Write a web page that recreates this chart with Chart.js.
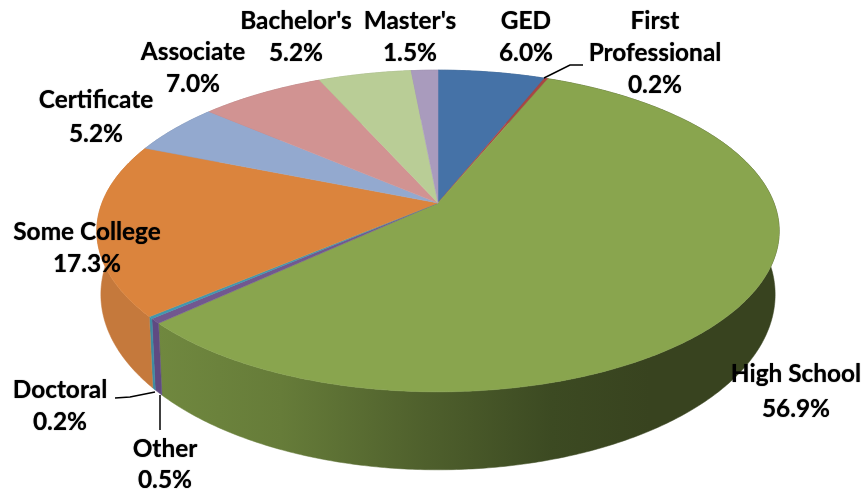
<!DOCTYPE html>
<html><head><meta charset="utf-8">
<style>html,body{margin:0;padding:0;background:#fff}canvas{display:block}</style>
<script src="https://cdn.jsdelivr.net/npm/chart.js@4/dist/chart.umd.min.js"></script>
</head><body><canvas id="c" width="863" height="494"></canvas>
<script>
const categories = ["GED","First Professional","High School","Other","Doctoral","Some College","Certificate","Associate","Bachelor's","Master's"];
const shares = [6.0,0.2,56.9,0.5,0.2,17.3,5.2,7.0,5.2,1.5];
const topColors = ["#4572A7","#AA4643","#89A54E","#71588F","#4198AF","#DB843D","#93A9CF","#D19392","#B9CD96","#A99BBD"];
const wallColors = ["#375B85","#883835","#6F863F","#5F4A82","#3E8CA2","#C5793C","#7587A5","#A77574","#94A478","#877C97"];
const labelLines = [["GED","6.0%"],["First","Professional","0.2%"],["High School","56.9%"],["Other","0.5%"],["Doctoral","0.2%"],["Some College","17.3%"],["Certificate","5.2%"],["Associate","7.0%"],["Bachelor's","5.2%"],["Master's","1.5%"]];
const labelX = [526,655,796,165,60,87,96,193,296,410];
const labelY = [[21,53],[21,53,85],[374,409],[449,480],[390,422],[232,264],[100,134],[52,84],[21,53],[21,53]];
const leaders = [[[544,78],[570,65],[583,65]],[[115,398],[130,397],[155,392]],[[160,395],[160,430]]];

const K = 0.174;
const TOP = {cx:438, cy:203, a:336, b:156};
const BASE = {cx:438, cy:264, a:332, b:170};
function project(g, t){
  const u = Math.sin(t), v = Math.cos(t), w = 1 + K*v;
  return [g.cx + g.a*u/w, g.cy - g.b*v/w];
}
function arcPoints(g, t0, t1){
  const n = Math.max(2, Math.ceil((t1-t0)/0.01));
  const pts = [];
  for(let i=0;i<=n;i++) pts.push(project(g, t0+(t1-t0)*i/n));
  return pts;
}
const tilt3d = {
  id:'tilt3d',
  beforeDatasetsDraw(chart){
    const ctx = chart.ctx, arcs = chart.getDatasetMeta(0).data;
    const ang = arcs.map(e => {
      const p = e.getProps(['startAngle','endAngle']);
      return [p.startAngle + Math.PI/2, p.endAngle + Math.PI/2];
    });
    arcs.forEach((e,i)=>{
      const [t0,t1] = ang[i];
      const top = arcPoints(TOP,t0,t1), base = arcPoints(BASE,t0,t1).reverse();
      ctx.beginPath();
      top.concat(base).forEach((p,j)=> j?ctx.lineTo(p[0],p[1]):ctx.moveTo(p[0],p[1]));
      ctx.closePath();
      let fill = wallColors[i];
      if(i===2){
        const g = ctx.createLinearGradient(158,0,650,0);
        g.addColorStop(0,'#70883F');
        g.addColorStop(0.25,'#667C39');
        g.addColorStop(0.55,'#4E5F2C');
        g.addColorStop(0.8,'#3C4A22');
        g.addColorStop(1,'#38431F');
        fill = g;
      }
      ctx.fillStyle = fill; ctx.fill();
      ctx.strokeStyle = fill; ctx.lineWidth = 0.5; ctx.stroke();
    });
    arcs.forEach((e,i)=>{
      const [t0,t1] = ang[i];
      ctx.beginPath();
      ctx.moveTo(TOP.cx,TOP.cy);
      arcPoints(TOP,t0,t1).forEach(p=>ctx.lineTo(p[0],p[1]));
      ctx.closePath();
      ctx.fillStyle = topColors[i]; ctx.fill();
      ctx.strokeStyle = topColors[i]; ctx.lineWidth = 0.5; ctx.stroke();
    });
    return false;
  },
  afterDraw(chart){
    const ctx = chart.ctx;
    ctx.save();
    ctx.strokeStyle = '#000'; ctx.lineWidth = 1.5;
    leaders.forEach(l=>{
      ctx.beginPath();
      l.forEach((p,j)=> j?ctx.lineTo(p[0],p[1]):ctx.moveTo(p[0],p[1]));
      ctx.stroke();
    });
    ctx.fillStyle = '#000';
    ctx.shadowColor = 'rgba(0,0,0,0.7)'; ctx.shadowBlur = 1;
    ctx.font = 'bold 24.4px Lato';
    ctx.textAlign = 'center'; ctx.textBaseline = 'middle';
    labelLines.forEach((lines,i)=> lines.forEach((s,j)=> ctx.fillText(s,labelX[i],labelY[i][j])));
    ctx.restore();
  }
};
new Chart(document.getElementById('c'),{
  type:'pie',
  data:{labels:categories,datasets:[{data:shares,backgroundColor:topColors,borderWidth:0}]},
  options:{responsive:false,animation:false,plugins:{legend:{display:false},tooltip:{enabled:false}}},
  plugins:[tilt3d]
});
</script></body></html>
